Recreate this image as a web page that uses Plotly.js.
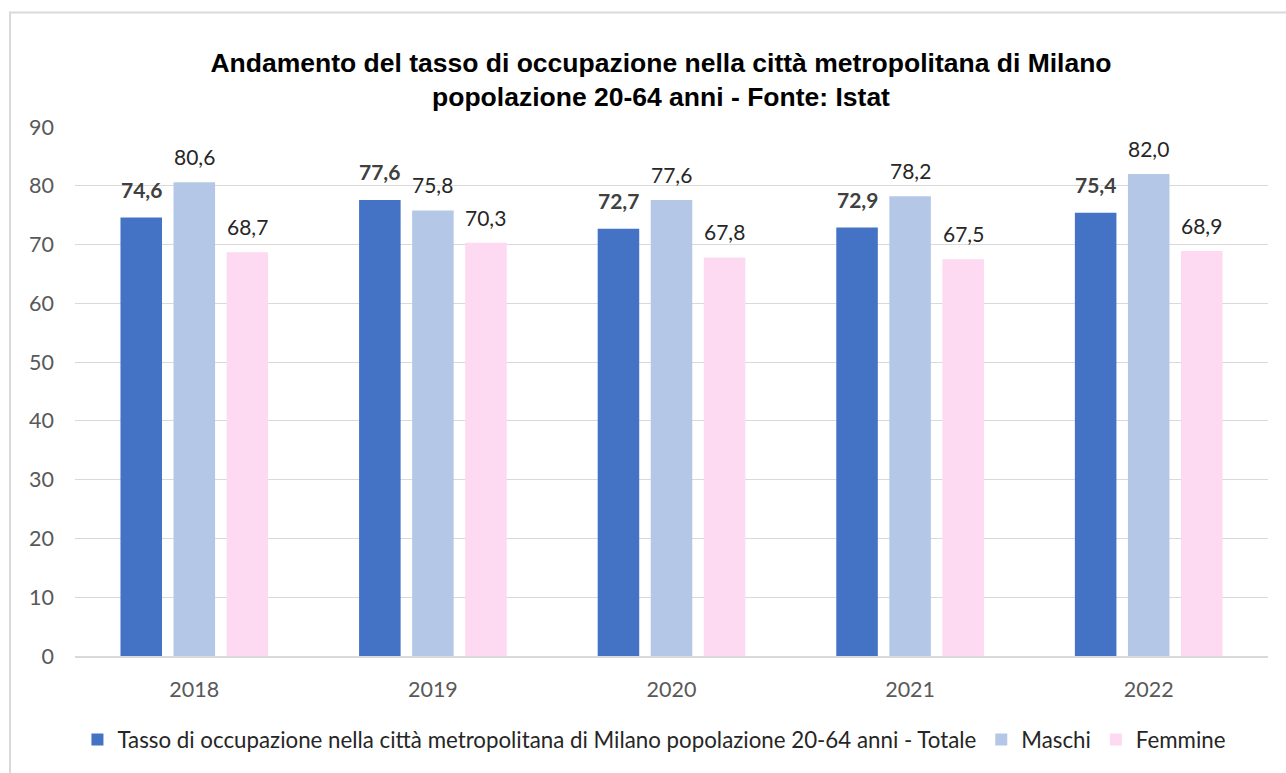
<!DOCTYPE html>
<html>
<head>
<meta charset="utf-8">
<script src="https://cdn.plot.ly/plotly-3.0.1.min.js"></script>
<style>
  html, body { margin: 0; padding: 0; background: #ffffff; }
  #chart { width: 1286px; height: 773px; }
</style>
</head>
<body>
<div id="chart"></div>
<script>
// ---- data ----
const years = ["2018", "2019", "2020", "2021", "2022"];
const totale = [74.6, 77.6, 72.7, 72.9, 75.4];
const maschi = [80.6, 75.8, 77.6, 78.2, 82.0];
const femmine = [68.7, 70.3, 67.8, 67.5, 68.9];
const seriesNames = [
  "Tasso di occupazione nella città metropolitana di Milano popolazione 20-64 anni - Totale",
  "Maschi",
  "Femmine"
];
const yTicks = [0, 10, 20, 30, 40, 50, 60, 70, 80, 90];
const titleText = "Andamento del tasso di occupazione nella città metropolitana di Milano<br>popolazione 20-64 anni - Fonte: Istat";

// ---- style ----
const colors = ["#4472C4", "#B4C7E7", "#FDD9F2"];
const BARGAP = 0.333;
const BARGROUPGAP = 0.217;
const FONT = "Lato, 'Open Sans', sans-serif";

const seriesValues = [totale, maschi, femmine];

const traces = seriesValues.map((vals, k) => ({
  type: "bar",
  name: seriesNames[k],
  x: years,
  y: vals,
  marker: { color: colors[k] },
  hoverinfo: "x+y+name"
}));

// data labels as annotations placed on the category axis scale
const slot = (1 - BARGAP) / seriesValues.length;
const annotations = [];
seriesValues.forEach((vals, k) => {
  vals.forEach((v, i) => {
    annotations.push({
      xref: "x", yref: "y",
      x: i + (k - (seriesValues.length - 1) / 2) * slot,
      y: v,
      yanchor: "bottom",
      xanchor: "center",
      yshift: k === 0 ? 14 : 11,
      showarrow: false,
      text: v.toFixed(1).replace(".", ","),
      font: {
        family: FONT,
        size: 21,
        color: k === 0 ? "#404040" : "#262626",
        weight: k === 0 ? "bold" : "normal"
      }
    });
  });
});

const layout = {
  width: 1286,
  height: 773,
  margin: { l: 75, r: 18, t: 127, b: 115 },
  paper_bgcolor: "#ffffff",
  plot_bgcolor: "#ffffff",
  barmode: "group",
  bargap: BARGAP,
  bargroupgap: BARGROUPGAP,
  font: { family: FONT, size: 21, color: "#595959" },
  title: {
    text: titleText,
    font: { family: "'Liberation Sans', Arial, sans-serif", size: 26.5, color: "#000000", weight: "bold" },
    x: 0.514,
    xref: "container",
    xanchor: "center",
    yref: "container",
    yanchor: "middle",
    y: 0.907
  },
  xaxis: {
    type: "category",
    showgrid: false,
    showline: true,
    linecolor: "#d9d9d9",
    linewidth: 2,
    ticks: "",
    ticklabelstandoff: 13,
    tickfont: { family: FONT, size: 21.5, color: "#595959" },
    zeroline: false,
    fixedrange: true
  },
  yaxis: {
    range: [0, 90],
    tickvals: yTicks,
    ticktext: yTicks.map(String),
    showgrid: true,
    gridcolor: "#d9d9d9",
    gridwidth: 1.3,
    zeroline: false,
    showline: false,
    ticks: "",
    ticklabelstandoff: 20,
    tickfont: { family: FONT, size: 21.5, color: "#595959" },
    fixedrange: true
  },
  showlegend: true,
  legend: {
    orientation: "h",
    x: 0.4857,
    xanchor: "center",
    y: -0.158,
    yanchor: "middle",
    font: { family: FONT, size: 22.3, color: "#262626" },
    itemclick: false,
    itemdoubleclick: false,
    traceorder: "normal"
  },
  annotations: annotations,
  shapes: [
    {
      type: "rect",
      xref: "paper", yref: "paper",
      x0: -0.0545, x1: 1.2,
      y0: -0.4, y1: 1.2166,
      line: { color: "#d9d9d9", width: 2 },
      fillcolor: "rgba(0,0,0,0)",
      layer: "below"
    }
  ]
};

Plotly.newPlot("chart", traces, layout, { displayModeBar: false, responsive: false });
</script>
</body>
</html>
